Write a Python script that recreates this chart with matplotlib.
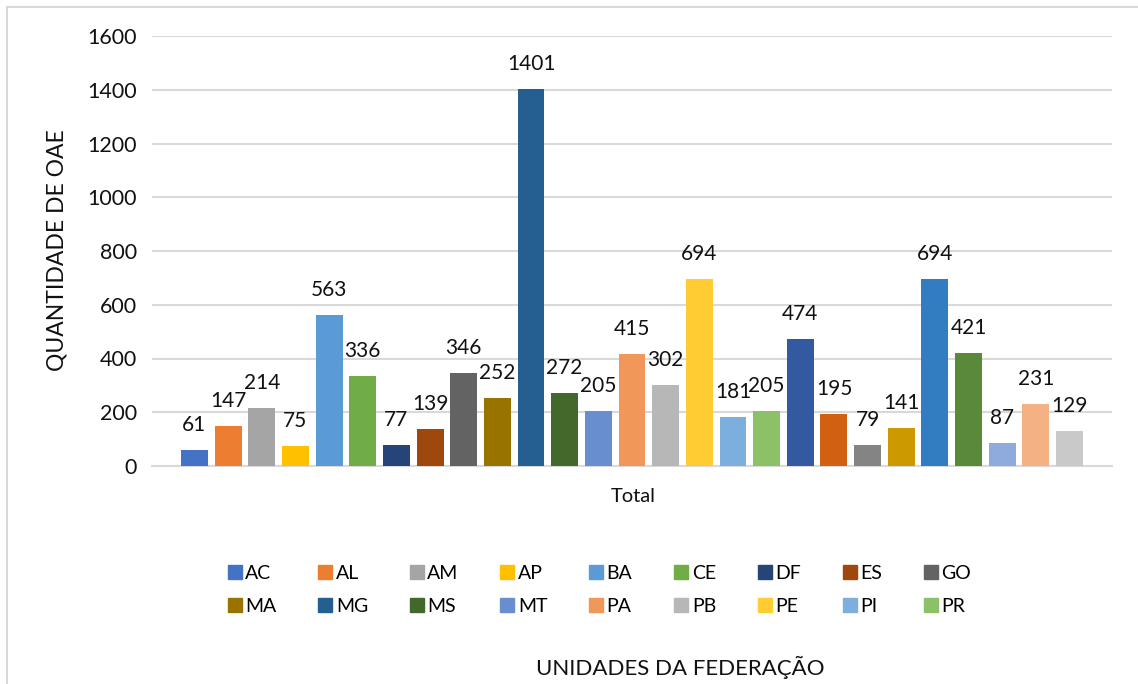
import numpy as np
import matplotlib
matplotlib.use('Agg')
import matplotlib.pyplot as plt
from matplotlib.lines import Line2D

plt.rcParams['font.family'] = ['Lato', 'DejaVu Sans']

ufs = ['AC', 'AL', 'AM', 'AP', 'BA', 'CE', 'DF', 'ES', 'GO', 'MA', 'MG', 'MS', 'MT', 'PA',
       'PB', 'PE', 'PI', 'PR', 'RJ', 'RN', 'RO', 'RR', 'RS', 'SC', 'SE', 'SP', 'TO']
values = [61, 147, 214, 75, 563, 336, 77, 139, 346, 252, 1401, 272, 205, 415,
          302, 694, 181, 205, 474, 195, 79, 141, 694, 421, 87, 231, 129]
colors = ['#4472C4', '#ED7D31', '#A5A5A5', '#FFC000', '#5B9BD5', '#70AD47',
          '#264478', '#9E480E', '#636363', '#997300', '#255E91', '#43682B',
          '#698ED0', '#F1975A', '#B7B7B7', '#FFCD33', '#7CAFDD', '#8CC168',
          '#335AA1', '#D26012', '#848484', '#CC9A00', '#327DC2', '#5A8A39',
          '#8FAADC', '#F4B183', '#C9C9C9']
yticks = [0, 200, 400, 600, 800, 1000, 1200, 1400, 1600]

fig = plt.figure(figsize=(11.38, 6.84), dpi=100)
ax = fig.add_axes([152 / 1138, 1 - 466 / 684, 960 / 1138, 430 / 684])

x = np.arange(len(values))
bars = ax.bar(x, values, width=0.8, color=colors, zorder=3)
for xi, v in zip(x, values):
    ax.annotate(str(v), (xi, v), xytext=(0, 18), textcoords='offset points',
                ha='center', va='center', fontsize=15, color='#111111')

ax.set_xlim(-1.26, len(values) - 1 + 1.26)
ax.set_ylim(0, 1600)
ax.set_yticks(yticks)
ax.tick_params(axis='y', length=0, labelsize=15.5, pad=11, labelcolor='#111111')
ax.set_xticks([])
ax.grid(axis='y', color='#D9D9D9', linewidth=1.5, zorder=0)
for s in ['top', 'right', 'left']:
    ax.spines[s].set_visible(False)
ax.spines['bottom'].set_color('#D9D9D9')
ax.spines['bottom'].set_linewidth(1.5)

fig.text(633 / 1138, 1 - 497 / 684, 'Total', ha='center', va='center', fontsize=14.5, color='#111111')
fig.text(57 / 1138, 1 - 250 / 684, 'QUANTIDADE DE OAE', rotation=90, ha='center', va='center',
         fontsize=16.5, color='#111111')
fig.text(680 / 1138, 1 - 667 / 684, 'UNIDADES DA FEDERAÇÃO', ha='center', va='center',
         fontsize=16, color='#111111')

# Excel only shows the first two rows of the legend, filled row by row
ncol, nrow = 9, 2
order = [r * ncol + c for c in range(ncol) for r in range(nrow)]
handles = [Line2D([], [], marker='s', linestyle='none', markersize=10, color=colors[i]) for i in order]
labels = [ufs[i] for i in order]
fig.legend(handles, labels, ncol=ncol, loc='center', bbox_to_anchor=(600 / 1138, 1 - 590 / 684),
           frameon=False, fontsize=14, handlelength=0.6, handletextpad=0.25,
           columnspacing=2.2, labelspacing=0.85)

# chart frame (left and top edges only visible)
fig.add_artist(Line2D([7 / 1138, 7 / 1138], [0, 1 - 7 / 684], color='#D9D9D9', linewidth=1.5))
fig.add_artist(Line2D([7 / 1138, 1], [1 - 7 / 684, 1 - 7 / 684], color='#D9D9D9', linewidth=1.5))

fig.savefig('out.png', dpi=100)
